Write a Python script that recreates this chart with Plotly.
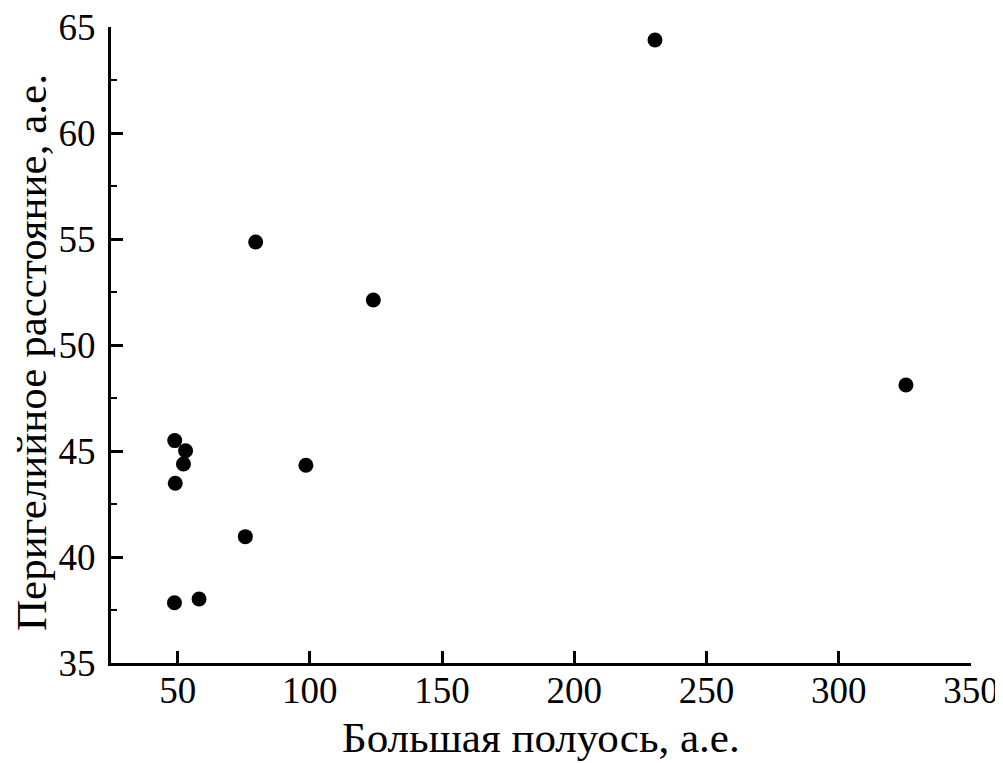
import plotly.graph_objects as go

semi_major_axis = [230.5, 79.5, 124.0, 325.4, 48.9, 53.0, 52.2, 49.1, 98.5, 75.6, 48.8, 58.1]
perihelion = [64.39, 54.86, 52.12, 48.11, 45.49, 45.01, 44.39, 43.48, 44.33, 40.96, 37.84, 38.02]

x_ticks = [50, 100, 150, 200, 250, 300, 350]
y_ticks = [35, 40, 45, 50, 55, 60, 65]

x_title = "Большая полуось, а.е."
y_title = "Перигелийное расстояние, а.е."

font_family = "Liberation Serif, Times New Roman, serif"

fig = go.Figure(go.Scatter(
    x=semi_major_axis, y=perihelion, mode="markers",
    marker=dict(color="black", size=15, line=dict(width=0)),
))

# page body has an 8px margin, so the figure origin sits at (8, 8)
fig.update_layout(
    width=995, height=755,
    margin=dict(l=103, r=32, t=19, b=100),
    plot_bgcolor="white", paper_bgcolor="white",
    showlegend=False,
    font=dict(family=font_family, size=37, color="black"),
    annotations=[
        dict(text=x_title, xref="paper", yref="paper", x=0.5, y=0,
             xanchor="center", yanchor="middle", yshift=-74, showarrow=False,
             font=dict(size=43)),
        dict(text=y_title, xref="paper", yref="paper", x=0, y=0.5,
             xanchor="center", yanchor="middle", xshift=-80, yshift=-8,
             textangle=-90, showarrow=False, font=dict(size=43)),
    ],
)
fig.update_xaxes(
    range=[24.8, 350], tickvals=x_ticks, ticks="inside", ticklen=12, tickwidth=3,
    tickcolor="black", showline=True, linecolor="black", linewidth=3,
    showgrid=False, zeroline=False, automargin=False,
    tickfont=dict(size=37), ticklabelstandoff=-7, ticklabeloverflow="allow",
)
fig.update_yaxes(
    range=[35, 65], tickvals=y_ticks, ticks="inside", ticklen=12, tickwidth=3,
    tickcolor="black", showline=True, linecolor="black", linewidth=3,
    showgrid=False, zeroline=False, automargin=False,
    minor=dict(dtick=2.5, tick0=35, ticks="inside", ticklen=6, tickwidth=2, tickcolor="black"),
    tickfont=dict(size=37), ticklabelstandoff=5, ticklabeloverflow="allow",
)

fig.write_html("out.html")
